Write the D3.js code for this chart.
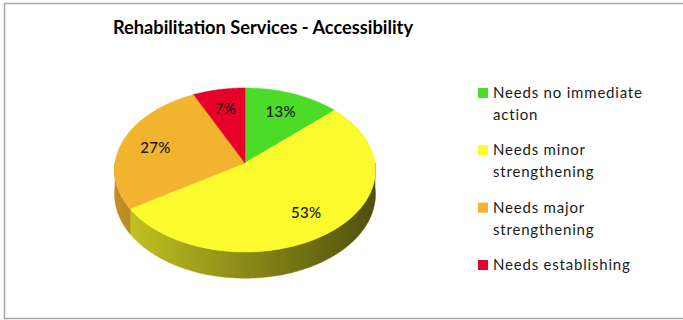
<!DOCTYPE html>
<html>
<head>
<meta charset="utf-8">
<script src="https://cdn.jsdelivr.net/npm/d3@7"></script>
<style>
  html, body { margin: 0; padding: 0; background: #fff; }
  svg { display: block; }
</style>
</head>
<body>
<svg id="chart" width="683" height="320"></svg>
<script>
// Chart data
const title = "Rehabilitation Services - Accessibility";
const categories = ["Needs no immediate action", "Needs minor strengthening", "Needs major strengthening", "Needs establishing"];
const legendLines = [["Needs no immediate", "action"], ["Needs minor", "strengthening"], ["Needs major", "strengthening"], ["Needs establishing"]];
const values = [13, 53, 27, 7];
const colors = ["#4cdc28", "#fafa2c", "#f2b32e", "#e6002a"];

const svg = d3.select("#chart");
const font = "Lato, 'Open Sans', sans-serif";

// Frame
svg.append("rect")
  .attr("x", 4.5).attr("y", 3.5).attr("width", 700).attr("height", 315)
  .attr("fill", "#fff").attr("stroke", "#a6a6a6").attr("stroke-width", 1.5);

// Title
const t = svg.append("text")
  .attr("x", 263).attr("y", 34)
  .attr("text-anchor", "middle")
  .attr("font-family", font).attr("font-weight", 700).attr("font-size", 19)
  .attr("fill", "#000")
  .text(title);
if (t.node().getComputedTextLength() > 300) {
  t.attr("textLength", 300).attr("lengthAdjust", "spacingAndGlyphs");
}

// Perspective projection of a tilted disc
const cx = 245, cy = 163, A = 130, B = 81.4, k = 0.085, D = 24;
function project(theta, r, z) {
  const X = r * Math.sin(theta), Y = -r * Math.cos(theta);
  const w = 1 - k * Y;
  return [cx + A * X / w, cy + B * Y / w + z * D / w];
}

const color = d3.scaleOrdinal().domain(categories).range(colors);
const arcs = d3.pie().sort(null).value(d => d.value)(
  categories.map((c, i) => ({ name: c, value: values[i] }))
);

const line = d3.line();
const step = Math.PI / 360;
function samples(a, b) {
  const n = Math.max(2, Math.ceil((b - a) / step));
  return d3.range(n + 1).map(i => a + (b - a) * i / n);
}

// Side-wall gradients, lighter on the left, darker on the right
const defs = svg.append("defs");
arcs.forEach((d, i) => {
  const base = color(d.data.name);
  const g = defs.append("linearGradient")
    .attr("id", "side" + i)
    .attr("gradientUnits", "userSpaceOnUse")
    .attr("x1", cx - A).attr("x2", cx + A).attr("y1", 0).attr("y2", 0);
  g.append("stop").attr("offset", 0).attr("stop-color", d3.interpolateRgb(base, "#000")(0.2));
  g.append("stop").attr("offset", 0.5).attr("stop-color", d3.interpolateRgb(base, "#000")(0.45));
  g.append("stop").attr("offset", 1).attr("stop-color", d3.interpolateRgb(base, "#000")(0.68));
});

// Visible outer walls (front half of the disc)
const sides = svg.append("g");
arcs.forEach((d, i) => {
  const a = Math.max(d.startAngle, Math.PI / 2);
  const b = Math.min(d.endAngle, 3 * Math.PI / 2);
  if (b <= a) return;
  const s = samples(a, b);
  const pts = s.map(th => project(th, 1, 0)).concat(s.slice().reverse().map(th => project(th, 1, 1)));
  sides.append("path")
    .attr("d", line(pts) + "Z")
    .attr("fill", `url(#side${i})`)
    .attr("stroke", `url(#side${i})`).attr("stroke-width", 0.5);
});

// Top faces
const tops = svg.append("g");
arcs.forEach(d => {
  const pts = [project(0, 0, 0)].concat(samples(d.startAngle, d.endAngle).map(th => project(th, 1, 0)));
  tops.append("path")
    .attr("d", line(pts) + "Z")
    .attr("fill", color(d.data.name))
    .attr("stroke", color(d.data.name)).attr("stroke-width", 0.5);
});

// Percentage labels
const total = d3.sum(values);
svg.append("g").selectAll("text")
  .data(arcs)
  .join("text")
  .each(function (d) {
    const mid = (d.startAngle + d.endAngle) / 2;
    const p = project(mid, 0.73, 0);
    d3.select(this).attr("x", p[0]).attr("y", p[1] + 6);
  })
  .attr("text-anchor", "middle")
  .attr("font-family", font).attr("font-size", 15).attr("font-weight", 500)
  .attr("letter-spacing", 0.3)
  .attr("fill", "#141414")
  .text(d => Math.round(d.data.value / total * 100) + "%");

// Legend
const legendY = d3.scalePoint().domain(categories).range([98, 270]);
const lg = svg.append("g").selectAll("g")
  .data(categories)
  .join("g")
  .attr("transform", d => `translate(478,${legendY(d)})`);
lg.append("rect")
  .attr("x", 0).attr("y", -10).attr("width", 10).attr("height", 10)
  .attr("fill", d => color(d));
lg.append("text")
  .attr("x", 15)
  .attr("font-family", font).attr("font-size", 15)
  .attr("letter-spacing", 0.8)
  .attr("fill", "#1a1a1a")
  .selectAll("tspan")
  .data((d, i) => legendLines[i])
  .join("tspan")
  .attr("x", 15)
  .attr("dy", (d, j) => j === 0 ? 0 : 22)
  .text(d => d);
</script>
</body>
</html>
